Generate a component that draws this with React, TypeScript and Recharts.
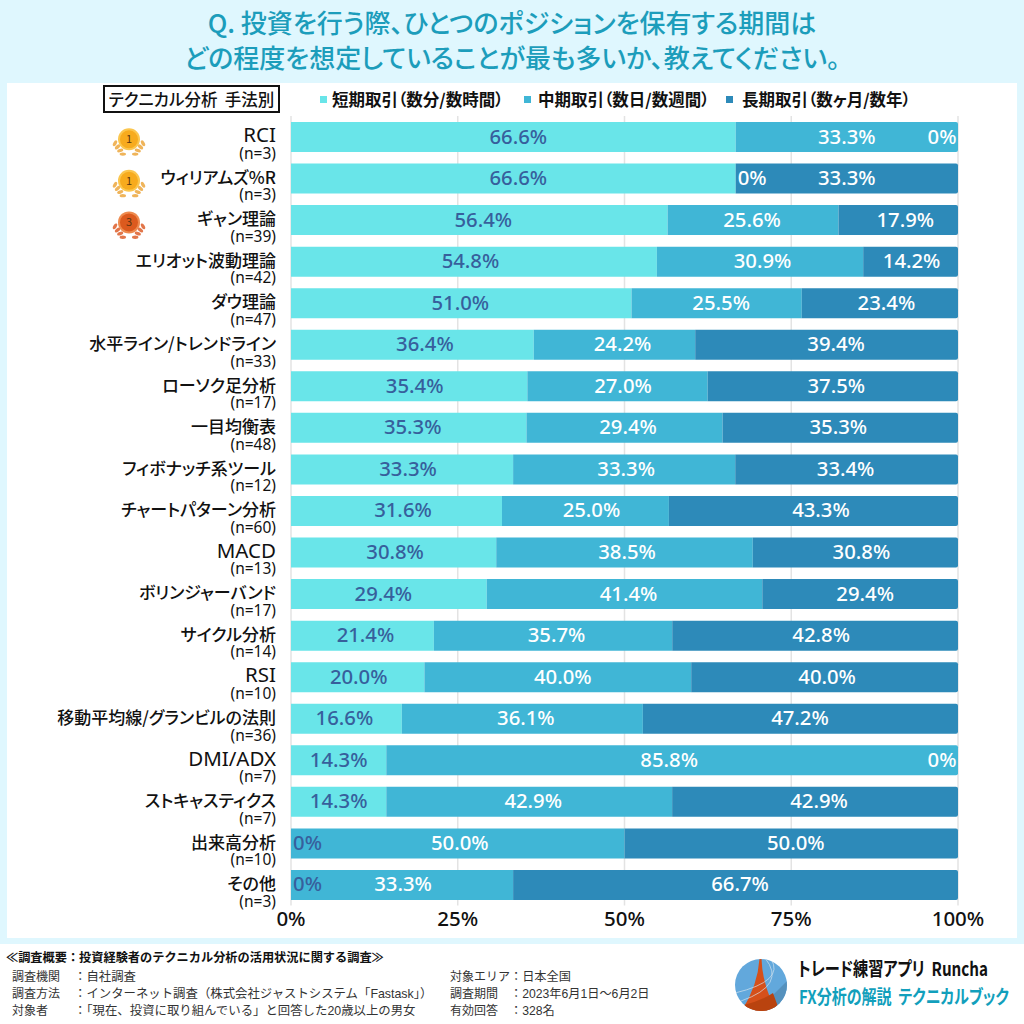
import { BarChart, Bar, XAxis, YAxis, CartesianGrid, LabelList, Rectangle } from "recharts";

const categories = ["RCI", "ウィリアムズ%R", "ギャン理論", "エリオット波動理論", "ダウ理論", "水平ライン/トレンドライン", "ローソク足分析", "一目均衡表", "フィボナッチ系ツール", "チャートパターン分析", "MACD", "ボリンジャーバンド", "サイクル分析", "RSI", "移動平均線/グランビルの法則", "DMI/ADX", "ストキャスティクス", "出来高分析", "その他"];
const counts = [3, 3, 39, 42, 47, 33, 17, 48, 12, 60, 13, 17, 14, 10, 36, 7, 7, 10, 3];
const shortTerm = [66.6, 66.6, 56.4, 54.8, 51.0, 36.4, 35.4, 35.3, 33.3, 31.6, 30.8, 29.4, 21.4, 20.0, 16.6, 14.3, 14.3, 0, 0];
const midTerm = [33.3, 0, 25.6, 30.9, 25.5, 24.2, 27.0, 29.4, 33.3, 25.0, 38.5, 41.4, 35.7, 40.0, 36.1, 85.8, 42.9, 50.0, 33.3];
const longTerm = [0, 33.3, 17.9, 14.2, 23.4, 39.4, 37.5, 35.3, 33.4, 43.3, 30.8, 29.4, 42.8, 40.0, 47.2, 0, 42.9, 50.0, 66.7];
const ranks: Record<string, number> = { RCI: 1, "ウィリアムズ%R": 1, "ギャン理論": 3 };
const seriesNames = ["短期取引（数分/数時間）", "中期取引（数日/数週間）", "長期取引（数ヶ月/数年）"];
const colors = ["#69e5e9", "#40b6d6", "#2d8ab9"];
const xTicks = [0, 0.25, 0.5, 0.75, 1];
const footerLeft = [
  ["調査機関", "：自社調査"],
  ["調査方法", "：インターネット調査（株式会社ジャストシステム「Fastask」）"],
  ["対象者", "：「現在、投資に取り組んでいる」と回答した20歳以上の男女"],
];
const footerRight = [
  ["対象エリア", "：日本全国"],
  ["調査期間", "：2023年6月1日〜6月2日"],
  ["有効回答", "：328名"],
];

// the labels in the original were placed by hand, so they sit a little off centre
const shortNudge = [5, 5, 4, -3.5, -1, 12.5, 5.5, 4, 6, 6.5, 1.5, -5.5, 3, 1, -2, 0, 0, 0, 0];
const midNudge = [0, 0, -1, 2.5, 4.5, 8, 5.5, 3.5, 2, 6, 2.5, 4, 3.5, 5, 3.5, -3, 4, 2, 1];
const longNudge = [0, 0, 7, 1, 6.5, 9.5, 3.5, -2, -1, 7.5, 6, 5, 6, 2.5, -0.5, 0, 4, 4.5, 4.5];

const data = categories.map((name, i) => ({ name, n: counts[i], short: shortTerm[i], mid: midTerm[i], long: longTerm[i] }));

const FONT = '"Noto Sans CJK JP", "Noto Sans", sans-serif';
const NUM_FONT = '"Noto Sans", "Noto Sans CJK JP", sans-serif';
const FOOT_FONT = '"Liberation Sans", "Noto Sans CJK JP", sans-serif';
const PALT = { fontFeatureSettings: '"palt"' };
const PLOT_LEFT = 291;
const PLOT_RIGHT = 958;
const LEAVES = [0, 1, 2, 3];

function Medal({ x, y, rank }: { x: number; y: number; rank: number }) {
  const face = rank === 1 ? "#f7ab1e" : "#dc5a1e";
  const rim = rank === 1 ? "#fbc64e" : "#ee8a4e";
  const leaf = rank === 1 ? "#efb45a" : "#e2764a";
  return (
    <g>
      {LEAVES.map((k) => (
        <g key={k}>
          <ellipse cx={x - 14 + k * 2.6} cy={y + 4 + k * 3.6} rx={3.2} ry={1.7} fill={leaf} transform={`rotate(${-60 + k * 20} ${x - 14 + k * 2.6} ${y + 4 + k * 3.6})`} />
          <ellipse cx={x + 14 - k * 2.6} cy={y + 4 + k * 3.6} rx={3.2} ry={1.7} fill={leaf} transform={`rotate(${60 - k * 20} ${x + 14 - k * 2.6} ${y + 4 + k * 3.6})`} />
        </g>
      ))}
      <circle cx={x} cy={y} r={11} fill={rim} />
      <circle cx={x} cy={y} r={9} fill={face} />
      <text x={x} y={y + 4} textAnchor="middle" fontSize={11} fill="#5a3510" fontFamily={FONT}>{rank}</text>
    </g>
  );
}

function CategoryTick({ x, y, payload, index }: any) {
  const rank = ranks[payload.value];
  const latin = /^[A-Za-z/]+$/.test(payload.value);
  return (
    <g>
      {rank ? <Medal x={129} y={y + 2.5} rank={rank} /> : null}
      <text textAnchor="end" fill="#111" fontFamily={FONT} style={PALT}>
        <tspan x={x} y={y + 5.5} fontSize={latin ? 20.5 : 17} fontWeight={latin ? 400 : 500} fontFamily={latin ? NUM_FONT : FONT}>{payload.value}</tspan>
        <tspan x={x} y={y + 22} fontSize={15.5} fontWeight={400} fontFamily={NUM_FONT}>(n={counts[index]})</tspan>
      </text>
    </g>
  );
}

function PercentLabel({ x, y, width, height, value, index, textColor, nudge }: any) {
  let cx = x + width / 2 + nudge[index];
  if (value === 0) {
    cx = x + width >= PLOT_RIGHT - 1 ? PLOT_RIGHT - 16 : x + 16.5;
  }
  const label = value === 0 ? "0%" : `${value.toFixed(1)}%`;
  return (
    <text x={cx} y={y + height / 2 + 6.5} textAnchor="middle" fontSize={20.3} fontWeight={500} fill={textColor} fontFamily={NUM_FONT}>{label}</text>
  );
}

function BarShape(props: any) {
  const end = props.x + props.width >= PLOT_RIGHT - 1;
  if (props.width <= 0) return null;
  return <Rectangle x={props.x} y={props.y} width={props.width} height={props.height} fill={props.fill} radius={end ? [0, 2, 2, 0] : 0} />;
}

function LegendRow() {
  const squares = [323, 527, 729];
  const texts = [332, 538, 742];
  return (
    <div style={{ position: "absolute", left: 0, top: 86, width: 1024, height: 26 }}>
      {seriesNames.map((s, i) => (
        <div key={s}>
          <div style={{ position: "absolute", left: squares[i] - 3, top: 10, width: 7, height: 7, background: colors[i] }} />
          <div style={{ position: "absolute", left: texts[i], top: 0, fontSize: 16.5, fontWeight: 700, lineHeight: "26px", color: "#111", whiteSpace: "nowrap", fontFamily: FONT, ...PALT }}>{s}</div>
        </div>
      ))}
    </div>
  );
}

function Logo() {
  return (
    <svg width={60} height={60} viewBox="0 0 60 60" style={{ position: "absolute", left: 731, top: 955 }}>
      <defs>
        <clipPath id="logoClip"><circle cx={30} cy={30} r={26} /></clipPath>
      </defs>
      <g clipPath="url(#logoClip)">
        <rect x={0} y={0} width={60} height={60} fill="#62a8dc" />
        <path d="M60 22 L60 60 L38 60 L36 46 Z" fill="#5591bd" />
        <path d="M28.5 3 L30.5 3 Q31 30 47 60 L8 60 Q27 32 28.5 3Z" fill="#d5501a" />
        <path d="M12 60 L13 50 Q30 46 42 38 L50 60Z" fill="#b9430f" />
        <path d="M34 3 Q56 30 10 46" fill="none" stroke="#d8e6ee" strokeWidth={0.9} opacity={0.75} />
        <path d="M40 4 Q54 26 4 38" fill="none" stroke="#d8e6ee" strokeWidth={0.9} opacity={0.75} />
      </g>
    </svg>
  );
}

export default function App() {
  const footerRows = [971, 988, 1005];
  return (
    <div style={{ position: "absolute", left: 0, top: 0, width: 1024, height: 1024, background: "#dff7fe", overflow: "hidden", fontFamily: FONT }}>
      <div style={{ position: "absolute", left: 0, top: 4, width: 1024, textAlign: "center", fontSize: 26, lineHeight: "35px", fontWeight: 500, color: "#1c9dbb", ...PALT }}>
        Q. 投資を行う際、ひとつのポジションを保有する期間は<br />どの程度を想定していることが最も多いか、教えてください。
      </div>
      <div style={{ position: "absolute", left: 7, top: 83, width: 1010, height: 855, background: "#fff" }} />
      <div style={{ position: "absolute", left: 0, top: 944, width: 1024, height: 80, background: "#fff" }} />
      <div style={{ position: "absolute", left: 0, top: 0 }}>
        <BarChart width={1024} height={940} data={data} layout="vertical" stackOffset="expand" barCategoryGap={6} margin={{ top: 116, right: 66, bottom: 4.5, left: 0 }}>
          <CartesianGrid horizontal={false} stroke="#e3e3e3" strokeWidth={1.5} />
          <XAxis type="number" domain={[0, 1]} ticks={xTicks} height={30} tickFormatter={(v: number) => `${v * 100}%`} axisLine={false} tickLine={false} interval={0} tickMargin={0} tick={{ fontSize: 20.5, fontWeight: 500, fill: "#111", fontFamily: NUM_FONT }} />
          <YAxis type="category" dataKey="name" width={PLOT_LEFT} axisLine={false} tickLine={false} interval={0} tickMargin={9} tick={<CategoryTick />} />
          <Bar dataKey="short" name={seriesNames[0]} stackId="a" fill={colors[0]} isAnimationActive={false} shape={<BarShape />}>
            <LabelList dataKey="short" content={<PercentLabel textColor="#375f9c" nudge={shortNudge} />} />
          </Bar>
          <Bar dataKey="mid" name={seriesNames[1]} stackId="a" fill={colors[1]} isAnimationActive={false} shape={<BarShape />}>
            <LabelList dataKey="mid" content={<PercentLabel textColor="#ffffff" nudge={midNudge} />} />
          </Bar>
          <Bar dataKey="long" name={seriesNames[2]} stackId="a" fill={colors[2]} isAnimationActive={false} shape={<BarShape />}>
            <LabelList dataKey="long" content={<PercentLabel textColor="#ffffff" nudge={longNudge} />} />
          </Bar>
        </BarChart>
      </div>
      <LegendRow />
      <div style={{ position: "absolute", left: 103, top: 85, width: 173, height: 24, border: "2px solid #111", fontSize: 16.5, lineHeight: "24px", fontWeight: 500, color: "#111", textAlign: "center", whiteSpace: "pre", ...PALT }}>テクニカル分析  手法別</div>
      <div style={{ position: "absolute", left: 6, top: 949, fontSize: 12.2, lineHeight: "18px", fontWeight: 700, color: "#111", whiteSpace: "nowrap", fontFamily: FOOT_FONT }}>≪調査概要：投資経験者のテクニカル分析の活用状況に関する調査≫</div>
      {footerLeft.map((r, i) => (
        <div key={r[0]} style={{ position: "absolute", top: footerRows[i] - 2, fontSize: 12, lineHeight: "16px", color: "#333", whiteSpace: "nowrap", fontFamily: FOOT_FONT }}>
          <span style={{ position: "absolute", left: 12 }}>{r[0]}</span>
          <span style={{ position: "absolute", left: 74, fontSize: 12.4 }}>{r[1]}</span>
        </div>
      ))}
      {footerRight.map((r, i) => (
        <div key={r[0]} style={{ position: "absolute", top: footerRows[i] - 2, fontSize: 12, lineHeight: "16px", color: "#333", whiteSpace: "nowrap", fontFamily: FOOT_FONT }}>
          <span style={{ position: "absolute", left: 450 }}>{r[0]}</span>
          <span style={{ position: "absolute", left: 510, fontSize: 12.2 }}>{r[1]}</span>
        </div>
      ))}
      <Logo />
      <div style={{ position: "absolute", left: 798, top: 956, fontSize: 19, lineHeight: "24px", fontWeight: 700, color: "#111", whiteSpace: "pre", transform: "scaleX(0.8)", transformOrigin: "left center", ...PALT }}>トレード練習アプリ  Runcha</div>
      <div style={{ position: "absolute", left: 799, top: 984, fontSize: 19, lineHeight: "24px", fontWeight: 700, color: "#129fbc", whiteSpace: "pre", transform: "scaleX(0.79)", transformOrigin: "left center", ...PALT }}>FX分析の解説  テクニカルブック</div>
    </div>
  );
}
